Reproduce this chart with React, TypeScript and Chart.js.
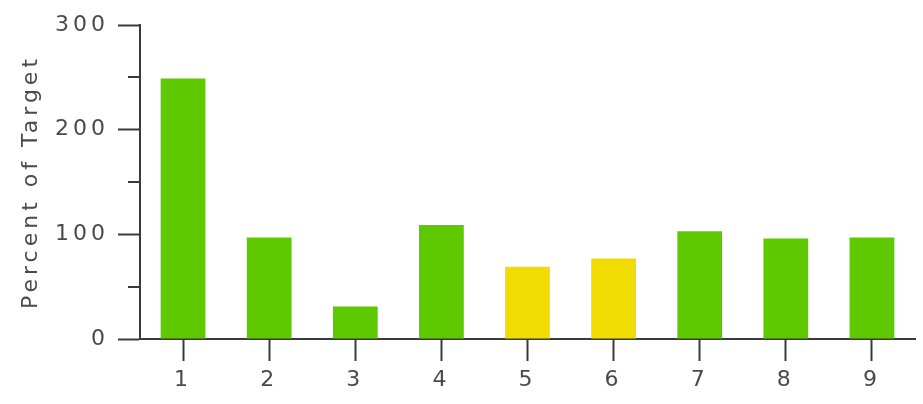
import React, { useEffect, useRef } from 'react';
import { Chart, registerables } from 'chart.js';

Chart.register(...registerables);

const categories = ['1', '2', '3', '4', '5', '6', '7', '8', '9'];
const percentOfTarget = [249, 97, 31, 109, 69, 77, 103, 96, 97];
const barStatus = ['good', 'good', 'good', 'good', 'warn', 'warn', 'good', 'good', 'good'];
const yMin = 0;
const yMax = 300;
const yMajorStep = 100;
const minorTicks = [50, 150, 250];
const axisTitle = 'Percent of Target';

const GREEN = '#5ec800';
const YELLOW = '#f0dc00';
const AXIS = '#3a3a3a';
const TEXT = '#4a4a4a';
const FONT = 'DejaVu Sans';

const letterSpacingPlugin = {
  id: 'letterSpacing',
  beforeLayout(chart: any) {
    chart.ctx.letterSpacing = '4px';
  },
  beforeDraw(chart: any) {
    chart.ctx.letterSpacing = '4px';
  },
};

const minorTickPlugin = {
  id: 'minorTicks',
  afterDraw(chart: any) {
    const y = chart.scales.y;
    const ctx = chart.ctx;
    const left = chart.chartArea.left;
    ctx.save();
    ctx.strokeStyle = AXIS;
    ctx.lineWidth = 2;
    minorTicks.forEach((v) => {
      const py = Math.round(y.getPixelForValue(v));
      ctx.beginPath();
      ctx.moveTo(left - 12, py);
      ctx.lineTo(left, py);
      ctx.stroke();
    });
    ctx.restore();
  },
};

export default function App() {
  const ref = useRef<HTMLCanvasElement | null>(null);

  useEffect(() => {
    document.body.style.margin = '0';
    if (!ref.current) return;
    const chart = new Chart(ref.current, {
      type: 'bar',
      data: {
        labels: categories,
        datasets: [
          {
            data: percentOfTarget,
            backgroundColor: barStatus.map((s) => (s === 'good' ? GREEN : YELLOW)),
            borderWidth: 0,
            barPercentage: 0.52,
            categoryPercentage: 1,
          },
        ],
      },
      options: {
        animation: false,
        responsive: false,
        maintainAspectRatio: false,
        layout: { padding: { top: 25, right: 8, left: 0, bottom: 0 } },
        plugins: {
          legend: { display: false },
          tooltip: { enabled: false },
        },
        scales: {
          x: {
            grid: {
              display: true,
              drawOnChartArea: false,
              drawTicks: true,
              tickLength: 22,
              tickWidth: 2,
              tickColor: AXIS,
              offset: false,
            },
            border: { display: true, color: AXIS, width: 2 },
            ticks: {
              color: TEXT,
              font: { family: FONT, size: 22 },
              padding: 6,
              maxRotation: 0,
            },
            afterFit(scale: any) {
              scale.height = 65;
            },
          },
          y: {
            min: yMin,
            max: yMax,
            grid: {
              display: true,
              drawOnChartArea: false,
              drawTicks: true,
              tickLength: 22,
              tickWidth: 2,
              tickColor: AXIS,
            },
            border: { display: true, color: AXIS, width: 2 },
            ticks: {
              stepSize: yMajorStep,
              color: TEXT,
              font: { family: FONT, size: 22 },
              padding: 9,
              autoSkip: false,
            },
            title: {
              display: true,
              text: axisTitle,
              color: TEXT,
              font: { family: FONT, size: 22 },
              padding: { top: 18, bottom: 0 },
            },
            afterFit(scale: any) {
              scale.width = 140;
            },
          },
        },
      },
      plugins: [letterSpacingPlugin, minorTickPlugin],
    });
    return () => chart.destroy();
  }, []);

  return (
    <div style={{ width: 923, height: 404 }}>
      <canvas ref={ref} width={923} height={404} style={{ display: 'block' }} />
    </div>
  );
}
